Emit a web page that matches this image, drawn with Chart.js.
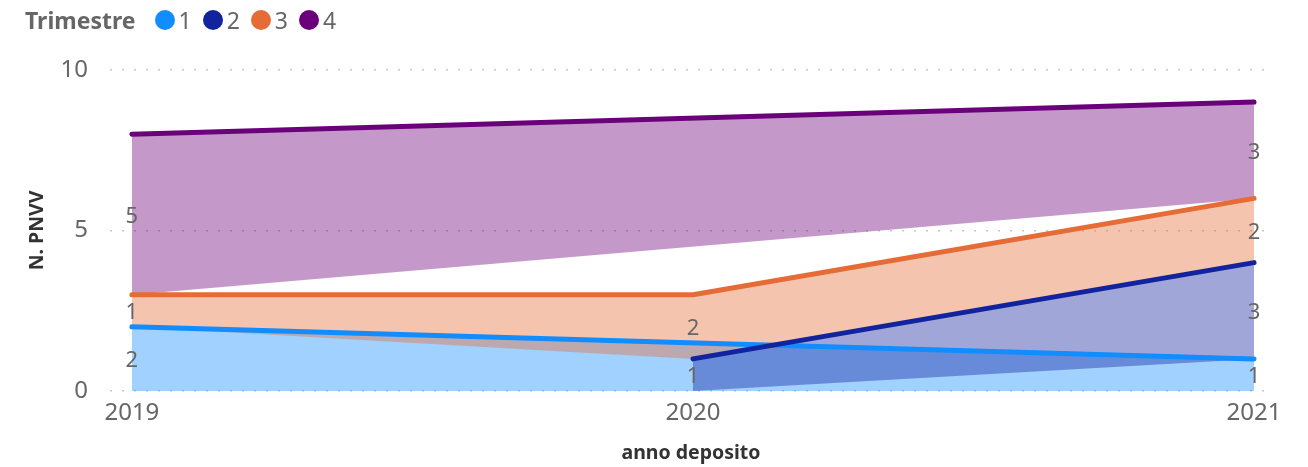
<!DOCTYPE html>
<html>
<head>
<meta charset="utf-8">
<script src="https://cdn.jsdelivr.net/npm/chart.js@4.4.1/dist/chart.umd.min.js"></script>
<style>
  html, body { margin: 0; padding: 0; background: #fff; }
  #wrap { position: relative; width: 1308px; height: 467px; }
  #legend { position: absolute; left: 25px; top: 4px; display: flex; align-items: center; font-family: 'Noto Sans', sans-serif; color: #666; }
  #legend .ttl { font-weight: bold; font-size: 23px; margin-right: 19px; }
  #legend .item { display: flex; align-items: center; margin-right: 11px; font-size: 23px; }
  #legend .dot { width: 20px; height: 20px; border-radius: 50%; margin-right: 4px; }
</style>
</head>
<body>
<div id="wrap">
  <div id="legend"></div>
  <canvas id="chart" width="1308" height="467"></canvas>
</div>
<script>
// data
const years = [2019, 2020, 2021];
const seriesNames = ['1', '2', '3', '4'];
const t1 = [2, null, 1];
const t2 = [null, 1, 3];
const t3 = [1, 2, 2];
const t4 = [5, null, 3];
const yTicks = [0, 5, 10];
const colors = ['#118DFF', '#12239E', '#E66C37', '#6B007B'];

const series = [t1, t2, t3, t4];

// stacked bottoms / tops (only where the series has a value)
const bases = [], tops = [];
series.forEach((vals, s) => {
    bases.push(years.map((_, i) => vals[i] == null ? null :
        series.slice(0, s).reduce((a, v) => a + (v[i] || 0), 0)));
    tops.push(years.map((_, i) => vals[i] == null ? null : bases[s][i] + vals[i]));
});

// legend
const legend = document.getElementById('legend');
legend.innerHTML = '<span class="ttl">Trimestre</span>' + seriesNames.map((n, i) =>
    `<span class="item"><span class="dot" style="background:${colors[i]}"></span>${n}</span>`).join('');

const datasets = [];
series.forEach((vals, s) => {
    datasets.push({
        label: 'base' + seriesNames[s],
        data: years.map((y, i) => ({x: y, y: bases[s][i]})),
        borderColor: 'transparent',
        borderWidth: 0,
        pointRadius: 0,
        fill: false,
        spanGaps: true,
        order: 10
    });
    datasets.push({
        label: seriesNames[s],
        data: years.map((y, i) => ({x: y, y: tops[s][i]})),
        borderColor: colors[s],
        backgroundColor: colors[s] + '66',
        borderWidth: 5,
        borderCapStyle: 'round',
        borderJoinStyle: 'round',
        pointRadius: 0,
        fill: 2 * s,
        spanGaps: true,
        tension: 0,
        order: 4 - s
    });
});

const bandLabels = {
    id: 'bandLabels',
    afterDatasetsDraw(chart) {
        const {ctx, scales: {x, y}} = chart;
        ctx.save();
        ctx.font = '22px "Noto Sans"';
        ctx.fillStyle = '#666';
        ctx.textAlign = 'center';
        ctx.textBaseline = 'middle';
        series.forEach((vals, s) => {
            vals.forEach((v, i) => {
                if (v == null) return;
                ctx.fillText(String(v), x.getPixelForValue(years[i]), y.getPixelForValue(bases[s][i] + v / 2) + 2);
            });
        });
        ctx.restore();
    }
};

new Chart(document.getElementById('chart'), {
    type: 'line',
    data: { datasets: datasets },
    plugins: [bandLabels],
    options: {
        responsive: false,
        animation: false,
        layout: { padding: { top: 70, right: 36, left: 0, bottom: 0 } },
        plugins: {
            legend: { display: false },
            tooltip: { enabled: false },
            filler: { drawTime: 'beforeDatasetsDraw' }
        },
        scales: {
            x: {
                type: 'linear',
                min: 2018.961,
                max: 2021.032,
                afterBuildTicks: scale => { scale.ticks = years.map(v => ({value: v})); },
                afterFit: scale => { scale.height = 76; },
                ticks: {
                    callback: v => String(v),
                    font: { family: 'Noto Sans', size: 24 },
                    color: '#666',
                    padding: 8,
                    maxRotation: 0
                },
                grid: { display: false, drawTicks: false },
                border: { display: false },
                title: {
                    display: true,
                    text: 'anno deposito',
                    font: { family: 'Noto Sans', size: 19.5, weight: 'bold' },
                    color: '#333',
                    padding: { top: 0, bottom: 2 }
                }
            },
            y: {
                min: 0,
                max: 10,
                afterBuildTicks: scale => { scale.ticks = yTicks.map(v => ({value: v})); },
                afterFit: scale => { scale.width = 110; },
                ticks: {
                    font: { family: 'Noto Sans', size: 24 },
                    color: '#666',
                    padding: 22
                },
                grid: { color: '#c8c8c8', lineWidth: 1.5, drawTicks: false },
                border: { display: false, dash: [2, 10] },
                title: {
                    display: true,
                    text: 'N. PNVV',
                    font: { family: 'Noto Sans', size: 19.5, weight: 'bold' },
                    color: '#333',
                    padding: { top: 26, bottom: 0 }
                }
            }
        }
    }
});
</script>
</body>
</html>
